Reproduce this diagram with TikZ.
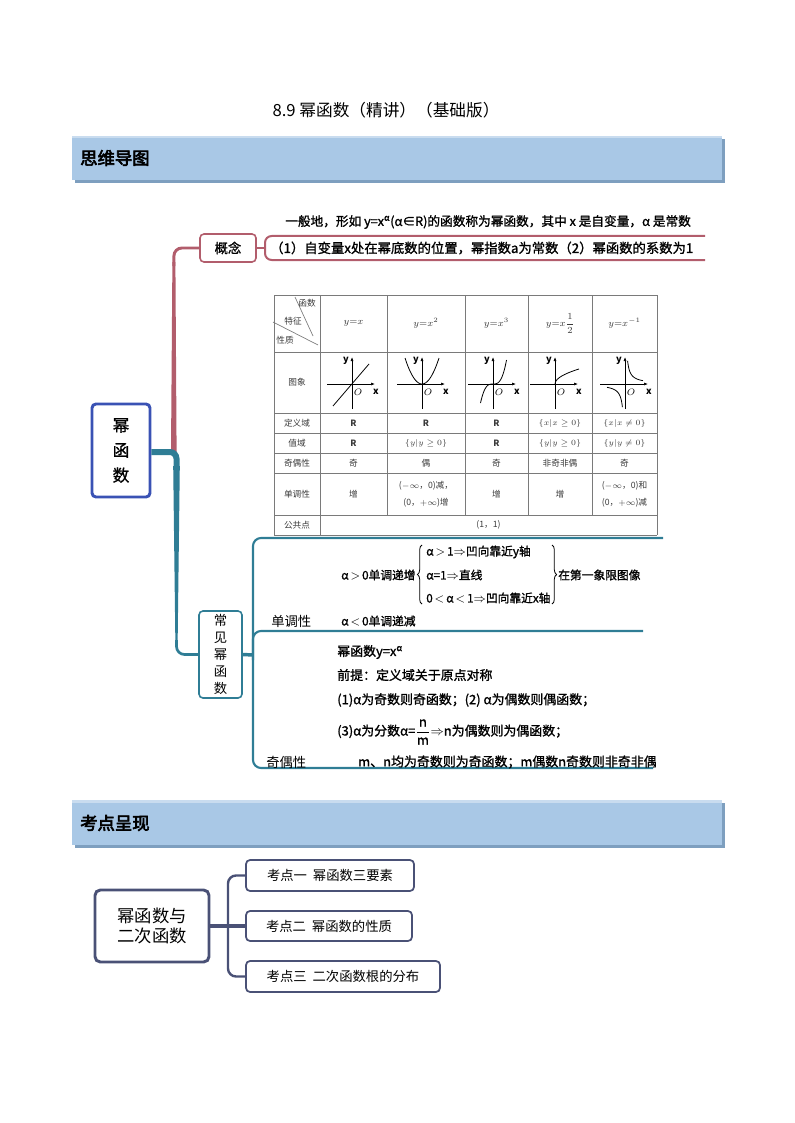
\documentclass[tikz,border=0pt]{standalone}
\usepackage{fontspec}
\setmainfont{Noto Sans CJK SC}
\newfontfamily\cjkb{Noto Sans CJK SC}[FakeBold=1.2]
\newfontfamily\cjkh{Noto Sans CJK SC}[FakeBold=3.5]
\usetikzlibrary{decorations.pathreplacing,arrows.meta,calc}
\definecolor{bandblue}{HTML}{A9C8E6}
\definecolor{bandshadow}{HTML}{7E9FBF}
\definecolor{bandtop}{HTML}{C9DCEF}
\definecolor{rootblue}{HTML}{3A52B4}
\definecolor{redbr}{HTML}{B25D6C}
\definecolor{tealbr}{HTML}{2F7D95}
\definecolor{navy}{HTML}{4A5176}
\definecolor{gridgray}{HTML}{7A7A7A}
\definecolor{tabtext}{HTML}{3A3A3A}
\newcommand{\gcell}[2]{%
  \draw[gaxis] (#1-25,384) -- (#1+23,384);
  \draw[gaxis] (#1,409) -- (#1,357);
  \node[glab] (gy#2) at (#1-6,361) {$\mathbf{y}$};
  \node[glab] (go#2) at (#1+6,392) {$O$};
  \node[glab] (gx#2) at (#1+24,392) {$\mathbf{x}$};
}
\begin{document}
\begin{tikzpicture}[x=0.75pt,y=-0.75pt,
  every node/.style={inner sep=0pt},
  grid/.style={draw=gridgray, line width=0.6pt},
  tab/.style={font=\fontsize{6.5}{9}\selectfont, text=tabtext, align=center},
  gaxis/.style={line width=0.5pt, -{Latex[length=3pt,width=2.2pt]}},
  curve/.style={line width=0.6pt},
  glab/.style={font=\fontsize{7}{7}\selectfont},
  content/.style={anchor=west, font=\cjkb\fontsize{8.8}{10}\selectfont},
  content2/.style={anchor=west, font=\cjkb\fontsize{9.7}{11}\selectfont},
  kbox/.style={draw=navy, line width=1.3pt, rounded corners=3pt, font=\fontsize{10}{12}\selectfont, fill=white}
]
\useasboundingbox (0,0) rectangle (794,1123);

% title
\node (title) at (386,110) {\fontsize{12.5}{13}\selectfont 8.9\ 幂函数（精讲）（基础版）};

% band 1
\fill[bandshadow] (75,139) rectangle (725,183);
\fill[bandblue] (72,136) rectangle (722,180);
\fill[bandtop] (72,136) rectangle (722,138.5);
\node[anchor=west] (h1) at (80,158) {\cjkh\fontsize{13}{14}\selectfont 思维导图};

% band 2
\fill[bandshadow] (75,803) rectangle (725,848);
\fill[bandblue] (72,800) rectangle (722,845);
\fill[bandtop] (72,800) rectangle (722,802.5);
\node[anchor=west] (h2) at (80,823) {\cjkh\fontsize{13}{14}\selectfont 考点呈现};

% ===== mind map =====
\node[draw=rootblue, line width=2.2pt, rounded corners=3pt, minimum width=43.5pt, minimum height=69.75pt,
      align=center, font=\cjkb\fontsize{12.5}{18.75}\selectfont] (root) at (121,450.5) {幂\\函\\数};

\node[draw=redbr, line width=1.2pt, rounded corners=3pt, minimum width=42pt, minimum height=21pt,
      font=\cjkb\fontsize{10}{12}\selectfont] (gn) at (228,248) {概念};

\node[draw=tealbr, line width=1.2pt, rounded corners=3pt, minimum width=32.25pt, minimum height=65.25pt,
      align=center, font=\fontsize{10}{12.75}\selectfont] (cj) at (220.5,654.5) {常\\见\\幂\\函\\数};

% red branch
\fill[redbr] (171,452) -- (176.6,452) -- (175.4,262) -- (172.4,262) -- cycle;
\draw[redbr, line width=2.2pt, rounded corners=6pt] (173.9,266) |- (gn.west);

% teal branch
\draw[tealbr, line width=4.5pt, rounded corners=5pt] ($(root.east)+(0,1.5)$) -- (176.5,452) -- (176.5,470);
\fill[tealbr] (173.2,466) -- (179.8,466) -- (177.6,645) -- (175.4,645) -- cycle;
\draw[tealbr, line width=2pt, rounded corners=6pt] (176.5,640) |- (cj.west);

% concept bracket
\coordinate (gt) at (705,236);
\coordinate (gb) at (705,260);
\draw[redbr, line width=2pt] (gn.east) -- (265,248);
\draw[redbr, line width=1.5pt, rounded corners=5pt] (gt) -- (265,236) -- (265,260) -- (gb);
\node[anchor=west, font=\cjkb\fontsize{9.5}{10}\selectfont] (def) at (285,222)
  {一般地，形如 y=x\textsuperscript{α}(α∈R)的函数称为幂函数，其中 x 是自变量，α 是常数};
\node[anchor=west, font=\cjkb\fontsize{10}{12}\selectfont] (prop) at (270,248)
  {（1）自变量x处在幂底数的位置，幂指数a为常数（2）幂函数的系数为1};

% table grid
\draw[grid] (274,295) -- (657,295);
\draw[grid] (274,352) -- (657,352);
\draw[grid] (274,413) -- (657,413);
\draw[grid] (274,433) -- (657,433);
\draw[grid] (274,453) -- (657,453);
\draw[grid] (274,473) -- (657,473);
\draw[grid] (274,515) -- (657,515);
\draw[grid] (274,535) -- (657,535);
\draw[grid] (274,295) -- (274,535);
\draw[grid] (320,295) -- (320,535);
\draw[grid] (657,295) -- (657,535);
\draw[grid] (387,295) -- (387,515);
\draw[grid] (465,295) -- (465,515);
\draw[grid] (528,295) -- (528,515);
\draw[grid] (592,295) -- (592,515);
\draw[grid, line width=0.5pt] (273,322) -- (318,345);
\draw[grid, line width=0.5pt] (295,297) -- (313,336);
\node[tab] (hd1) at (307,303) {函数};
\node[tab] (hd2) at (293,321) {特征};
\node[tab] (hd3) at (285,340) {性质};

\node[tab, font=\fontsize{7}{9}\selectfont] (f1) at (353.5,323.5) {$y{=}x$};
\node[tab, font=\fontsize{7}{9}\selectfont] (f2) at (426,323.5) {$y{=}x^2$};
\node[tab, font=\fontsize{7}{9}\selectfont] (f3) at (496.5,323.5) {$y{=}x^3$};
\node[tab, font=\fontsize{7}{9}\selectfont] (f4) at (560,323.5) {$y{=}x\displaystyle\frac{1}{2}$};
\node[tab, font=\fontsize{7}{9}\selectfont] (f5) at (624.5,323.5) {$y{=}x^{-1}$};

\node[tab] (l2) at (297,382.5) {图象};
\node[tab] (l3) at (297,423) {定义域};
\node[tab] (l4) at (297,443) {值域};
\node[tab] (l5) at (297,463) {奇偶性};
\node[tab] (l6) at (297,494) {单调性};
\node[tab] (l7) at (297,525) {公共点};

% graphs
\gcell{352}{a}
\gcell{422}{b}
\gcell{493}{c}
\gcell{555}{d}
\gcell{625}{e}
\begin{scope}[shift={(352,384)}, yscale=-1]
  \draw[curve] (-19,-22) -- (17,20);
\end{scope}
\begin{scope}[shift={(422,384)}, yscale=-1]
  \draw[curve, domain=-17:17, samples=40, smooth] plot (\x,{26*(\x/17)*(\x/17)});
\end{scope}
\begin{scope}[shift={(493,384)}, yscale=-1]
  \draw[curve, domain=-12.5:13.5, samples=40, smooth] plot (\x,{24*(\x/13.5)*(\x/13.5)*(\x/13.5)});
\end{scope}
\begin{scope}[shift={(555,384)}, yscale=-1]
  \draw[curve, domain=0:24, samples=40, smooth] plot (\x,{15*sqrt(\x/24)});
\end{scope}
\begin{scope}[shift={(625,384)}, yscale=-1]
  \draw[curve, domain=2.6:18, samples=40, smooth] plot (\x,{60/\x});
  \draw[curve, domain=-18:-2.6, samples=40, smooth] plot (\x,{60/\x});
\end{scope}

% rows
\node[tab] (d1) at (353.5,423) {$\mathbf{R}$};
\node[tab] (d2) at (426,423) {$\mathbf{R}$};
\node[tab] (d3) at (496.5,423) {$\mathbf{R}$};
\node[tab] (d4) at (560,423) {$\{x|x\geq0\}$};
\node[tab] (d5) at (624.5,423) {$\{x|x\neq0\}$};
\node[tab] (v1) at (353.5,443) {$\mathbf{R}$};
\node[tab] (v2) at (426,443) {$\{y|y\geq0\}$};
\node[tab] (v3) at (496.5,443) {$\mathbf{R}$};
\node[tab] (v4) at (560,443) {$\{y|y\geq0\}$};
\node[tab] (v5) at (624.5,443) {$\{y|y\neq0\}$};
\node[tab] (o1) at (353.5,463) {奇};
\node[tab] (o2) at (426,463) {偶};
\node[tab] (o3) at (496.5,463) {奇};
\node[tab] (o4) at (560,463) {非奇非偶};
\node[tab] (o5) at (624.5,463) {奇};
\node[tab] (m1) at (353.5,494) {增};
\node[tab, font=\fontsize{6.5}{13}\selectfont] (m2) at (426,494) {($-\infty$，0)减，\\(0，$+\infty$)增};
\node[tab] (m3) at (496.5,494) {增};
\node[tab] (m4) at (560,494) {增};
\node[tab, font=\fontsize{6.5}{13}\selectfont] (m5) at (624.5,494) {($-\infty$，0)和\\(0，$+\infty$)减};
\node[tab] (cp) at (488.5,525) {(1，1)};

% teal sub-branches
\coordinate (tA) at (663,538);
\coordinate (tB) at (643,631);
\coordinate (tC) at (653,768);
\draw[tealbr, line width=2.6pt] (cj.east) -- (253,655);
\draw[tealbr, line width=1.6pt, rounded corners=6pt] (tA) -- (253,538) -- (253,768) -- (tC);
\draw[tealbr, line width=1.6pt, rounded corners=6pt] (253,660) |- (tB);

\node[anchor=west, font=\fontsize{10}{12}\selectfont] (dd) at (271,621) {单调性};
\node[anchor=west, font=\fontsize{10}{12}\selectfont] (jo) at (266,762) {奇偶性};

\node[content] (m0) at (341,575) {α\,$>$\,0单调递增};
\draw[decorate, decoration={brace, amplitude=3.5pt}, line width=0.6pt] (422,604) -- (422,545);
\node[content] (c1) at (426,552) {α\,$>$\,1$\Rightarrow$凹向靠近y轴};
\node[content] (c2) at (426,575) {α=1$\Rightarrow$直线};
\node[content] (c3) at (426,598) {0\,$<$\,α\,$<$\,1$\Rightarrow$凹向靠近x轴};
\draw[decorate, decoration={brace, amplitude=3.5pt}, line width=0.6pt] (552,545) -- (552,604);
\node[content] (c4) at (558,575) {在第一象限图像};
\node[content] (c5) at (341,621) {α\,$<$\,0单调递减};

\node[content2] (p1) at (337,652) {幂函数y=x\textsuperscript{α}};
\node[content2] (p2) at (337,675) {前提：定义域关于原点对称};
\node[content2] (p3) at (337,700) {(1)α为奇数则奇函数；(2) α为偶数则偶函数；};
\node[content2] (p4) at (337,732) {(3)α为分数α=$\displaystyle\frac{\mbox{n}}{\mbox{m}}$$\Rightarrow$n为偶数则为偶函数；};
\node[content2] (p5) at (358,762) {m、n均为奇数则为奇函数；m偶数n奇数则非奇非偶};

% ===== bottom map =====
\node[draw=navy, line width=2.2pt, rounded corners=4pt, minimum width=85.5pt, minimum height=54pt,
      align=center, font=\fontsize{13}{15}\selectfont] (r2) at (152,926) {幂函数与\\二次函数};
\node[kbox, minimum width=126pt, minimum height=23.25pt] (k1) at (330,875.5) {考点一\ \ 幂函数三要素};
\node[kbox, minimum width=124.5pt, minimum height=22.5pt] (k2) at (329,926) {考点二\ \ 幂函数的性质};
\node[kbox, minimum width=145.5pt, minimum height=23.25pt] (k3) at (343,976.5) {考点三\ \ 二次函数根的分布};
\draw[navy, line width=2.4pt] (r2.east) -- (k2.west);
\draw[navy, line width=1.8pt, rounded corners=6pt] (k1.west) -| (228,926) |- (k3.west);
\end{tikzpicture}
\end{document}
